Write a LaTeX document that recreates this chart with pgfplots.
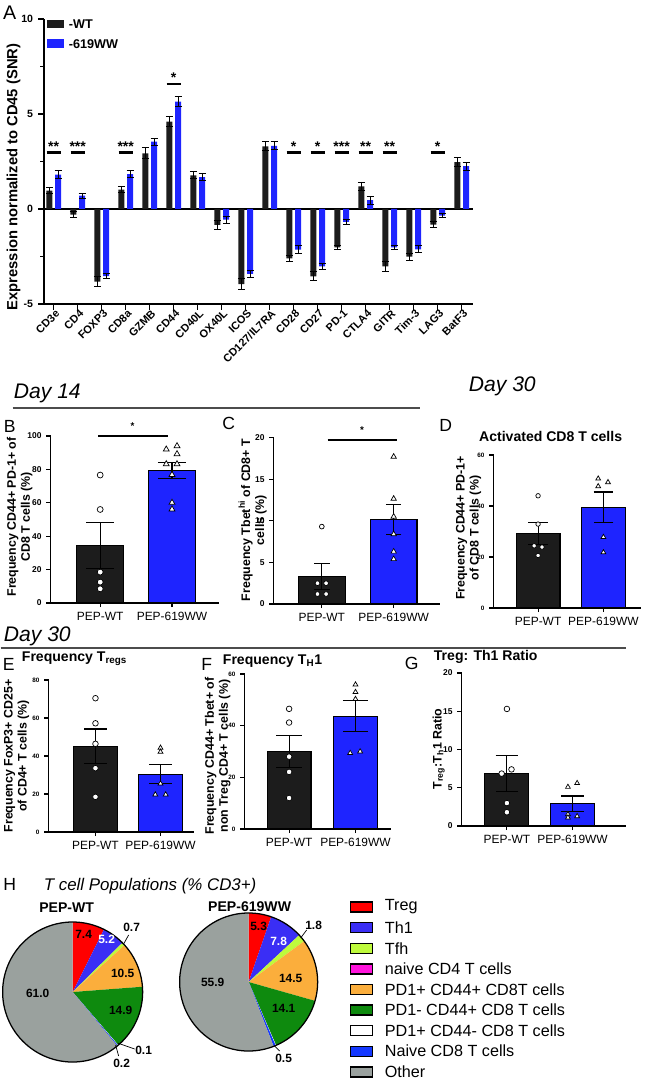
\documentclass[border=0pt]{standalone}
\usepackage{fontspec}
\setmainfont{Liberation Sans}
\usepackage{pgfplots}
\pgfplotsset{compat=1.18}

\definecolor{wtk}{RGB}{28,28,28}
\definecolor{wwb}{RGB}{30,36,255}
\definecolor{ptreg}{RGB}{255,0,0}
\definecolor{pth1}{RGB}{58,46,245}
\definecolor{ptfh}{RGB}{190,250,60}
\definecolor{pncd4}{RGB}{255,20,220}
\definecolor{porange}{RGB}{251,174,60}
\definecolor{pgreen}{RGB}{14,138,14}
\definecolor{pncd8}{RGB}{20,56,255}
\definecolor{pother}{RGB}{154,161,158}

\pgfplotsset{
  /pgf/number format/assume math mode=true,
  gp/.style={scale only axis, anchor=south west, clip=false, ymin=0,
    axis x line*=bottom, axis y line*=left, axis line style={-, line width=1pt},
    xtick={0,1}, xticklabels={PEP-WT,PEP-619WW},
    xticklabel style={font=\fontsize{8.5}{10}\selectfont},
    tick align=outside, major tick length=3pt, tick style={black, line width=0.8pt},
    yticklabel style={font=\bfseries\fontsize{6}{7}\selectfont}},
  barwt/.style={ybar, bar shift=0pt, fill=wtk, draw=black, line width=0.8pt,
    error bars/.cd, y dir=both, y explicit, error bar style={black, line width=0.8pt},
    error mark options={black, line width=0.8pt, mark size=#1, rotate=90}},
  barww/.style={ybar, bar shift=0pt, fill=wwb, draw=black, line width=0.8pt,
    error bars/.cd, y dir=both, y explicit, error bar style={black, line width=0.8pt},
    error mark options={black, line width=0.8pt, mark size=#1, rotate=90}},
  ptc/.style={only marks, mark=*, mark size=#1, mark options={fill=white, draw=black, line width=0.5pt}},
  ptt/.style={only marks, mark=triangle*, mark size=#1, mark options={fill=white, draw=black, line width=0.5pt}},
  pie/.style={fill=#1, draw=none},
  pieaxis/.style={scale only axis, anchor=center, hide axis, clip=false,
    xmin=-1, xmax=1, ymin=-1, ymax=1},
}

\begin{document}
\begin{tikzpicture}
% page in pixel units of the reference (644 x 1079)
\begin{scope}[x=0.025cm,y=-0.025cm]
\useasboundingbox (0,0) rectangle (644,1079);
\coordinate (oA) at (43,304);
\coordinate (oB) at (50,603);
\coordinate (oC) at (273,604);
\coordinate (oD) at (493,608);
\coordinate (oE) at (48,832);
\coordinate (oF) at (244,829);
\coordinate (oG) at (461,826);
\coordinate (cP1) at (72,992);
\coordinate (cP2) at (248,982);
\end{scope}

% ---------------- A
\begin{axis}[at={(oA)}, anchor=south west, scale only axis, width=10.725cm, height=7.125cm, clip=false,
  xmin=-0.42, xmax=17.46, ymin=-5, ymax=10,
  axis x line*=bottom, axis y line*=left, axis line style={-, line width=1.4pt},
  xtick={0,...,17},
  xticklabels={CD3e,CD4,FOXP3,CD8a,GZMB,CD44,CD40L,OX40L,ICOS,CD127/IL7RA,CD28,CD27,PD-1,CTLA4,GITR,Tim-3,LAG3,BatF3},
  ytick={-5,0,5,10}, minor ytick={-2.5,2.5,7.5},
  tick align=outside, major tick length=4pt, minor tick length=2.5pt,
  tick style={black, line width=1.1pt},
  xticklabel style={rotate=45, anchor=east, font=\bfseries\fontsize{7.8}{9}\selectfont, inner sep=1pt, yshift=-3pt, xshift=2pt},
  yticklabel style={font=\bfseries\fontsize{7.5}{9}\selectfont},
  bar width=0.25]
\draw[line width=1.4pt] (axis cs:-0.42,0) -- (axis cs:17.46,0);
\addplot[ybar, bar shift=0pt, fill=wtk, draw=none,
  error bars/.cd, y dir=both, y explicit, error bar style={black, line width=0.7pt},
  error mark options={black, line width=0.7pt, mark size=2.5pt, rotate=90}] coordinates {
  (-0.18,0.96) +- (0,0.16)  (0.82,-0.30) +- (0,0.15)  (1.82,-3.82) +- (0,0.25)
  (2.82,1.02) +- (0,0.14)   (3.82,2.93) +- (0,0.28)   (4.82,4.60) +- (0,0.25)
  (5.82,1.77) +- (0,0.18)   (6.82,-0.84) +- (0,0.23)  (7.82,-3.96) +- (0,0.28)
  (8.82,3.30) +- (0,0.23)   (9.82,-2.60) +- (0,0.14)  (10.82,-3.54) +- (0,0.23)
  (11.82,-2.02) +- (0,0.10) (12.82,1.19) +- (0,0.23)  (13.82,-3.02) +- (0,0.25)
  (14.82,-2.51) +- (0,0.18) (15.82,-0.82) +- (0,0.16) (16.82,2.46) +- (0,0.23)};
\addplot[ybar, bar shift=0pt, fill=wwb, draw=none,
  error bars/.cd, y dir=both, y explicit, error bar style={black, line width=0.7pt},
  error mark options={black, line width=0.7pt, mark size=2.5pt, rotate=90}] coordinates {
  (0.18,1.81) +- (0,0.21)   (1.18,0.70) +- (0,0.14)   (2.18,-3.53) +- (0,0.12)
  (3.18,1.84) +- (0,0.18)   (4.18,3.54) +- (0,0.19)   (5.18,5.65) +- (0,0.28)
  (6.18,1.67) +- (0,0.18)   (7.18,-0.56) +- (0,0.18)  (8.18,-3.42) +- (0,0.16)
  (9.18,3.32) +- (0,0.21)   (10.18,-2.14) +- (0,0.21) (11.18,-3.02) +- (0,0.14)
  (12.18,-0.68) +- (0,0.14) (13.18,0.46) +- (0,0.21)  (14.18,-2.02) +- (0,0.12)
  (15.18,-2.12) +- (0,0.18) (16.18,-0.35) +- (0,0.11) (17.18,2.26) +- (0,0.21)};
\begin{scope}[line width=1.8pt, every node/.style={anchor=base, font=\bfseries\fontsize{10}{10}\selectfont, inner sep=0pt}]
\draw (axis cs:-0.3,2.96) -- (axis cs:0.3,2.96);   \node at (axis cs:0,3.05) {**};
\draw (axis cs:0.7,2.96) -- (axis cs:1.3,2.96);    \node at (axis cs:1,3.05) {***};
\draw (axis cs:2.7,2.96) -- (axis cs:3.3,2.96);    \node at (axis cs:3,3.05) {***};
\draw (axis cs:4.7,6.58) -- (axis cs:5.3,6.58);    \node at (axis cs:5,6.67) {*};
\draw (axis cs:9.7,2.96) -- (axis cs:10.3,2.96);   \node at (axis cs:10,3.05) {*};
\draw (axis cs:10.7,2.96) -- (axis cs:11.3,2.96);  \node at (axis cs:11,3.05) {*};
\draw (axis cs:11.7,2.96) -- (axis cs:12.3,2.96);  \node at (axis cs:12,3.05) {***};
\draw (axis cs:12.7,2.96) -- (axis cs:13.3,2.96);  \node at (axis cs:13,3.05) {**};
\draw (axis cs:13.7,2.96) -- (axis cs:14.3,2.96);  \node at (axis cs:14,3.05) {**};
\draw (axis cs:15.7,2.96) -- (axis cs:16.3,2.96);  \node at (axis cs:16,3.05) {*};
\end{scope}
\end{axis}

% ---------------- B
\begin{axis}[gp, at={(oB)}, width=4.2cm, height=4.175cm, xmin=-0.69, xmax=1.65,
  ymax=100, ytick={0,20,...,100}, bar width=0.65]
\addplot[barwt=10pt] coordinates {(0,34.4) +- (0,13.6)};
\addplot[barww=10pt] coordinates {(1,79.3) +- (0,5.0)};
\addplot[ptc=2.1pt] coordinates {(0,76.6) (0,56.0) (0,18.5) (0,12.5) (0,8.5)};
\addplot[ptt=2.4pt] coordinates {(0.92,92.0) (1.07,94.0) (1.07,89.2) (0.92,83.2)
  (1.07,83.2) (1,76.8) (1,60.1) (1,56.1)};
\draw[line width=0.8pt] (axis cs:-0.03,100) -- (axis cs:0.94,100);
\node[font=\bfseries\fontsize{7}{7}\selectfont] at (axis cs:0.45,106) {*};
\end{axis}

% ---------------- C
\begin{axis}[gp, at={(oC)}, width=4.15cm, height=4.16cm, xmin=-0.67, xmax=1.64,
  ymax=20, ytick={0,5,...,20}, bar width=0.65]
\addplot[barwt=5.5pt] coordinates {(0,3.34) +- (0,1.56)};
\addplot[barww=5.5pt] coordinates {(1,10.16) +- (0,1.8)};
\addplot[ptc=1.7pt] coordinates {(0,9.3) (-0.06,2.5) (0.06,2.5) (-0.06,1.2) (0.06,1.2)};
\addplot[ptt=2.2pt] coordinates {(1,17.7) (1,12.65) (1,10.5) (1,8.4) (1,6.3) (1,5.4)};
\draw[line width=0.8pt] (axis cs:0.08,19.7) -- (axis cs:1.05,19.7);
\node[font=\bfseries\fontsize{7}{7}\selectfont] at (axis cs:0.56,20.9) {*};
\end{axis}

% ---------------- D
\begin{axis}[gp, at={(oD)}, width=3.675cm, height=3.825cm, xmin=-0.68, xmax=1.57,
  ymax=60, ytick={0,20,40,60}, bar width=0.67,
  yticklabel style={font=\bfseries\fontsize{4.5}{5}\selectfont}]
\addplot[barwt=7pt] coordinates {(0,29.2) +- (0,4.3)};
\addplot[barww=7pt] coordinates {(1,39.5) +- (0,6.0)};
\addplot[ptc=1.6pt] coordinates {(0,44.0) (0,32.9) (-0.06,24.4) (0.06,23.9) (0,20.6)};
\addplot[ptt=2pt] coordinates {(0.92,50.7) (1.07,49.3) (0.92,47.7) (1,27.8) (1,21.8)};
\end{axis}

% ---------------- E
\begin{axis}[gp, at={(oE)}, width=3.625cm, height=3.8cm, xmin=-0.72, xmax=1.51,
  ymax=80, ytick={0,20,...,80}, bar width=0.68,
  yticklabel style={font=\bfseries\fontsize{4.5}{5}\selectfont}]
\addplot[barwt=8pt] coordinates {(0,45.2) +- (0,9.0)};
\addplot[barww=8pt] coordinates {(1,30.3) +- (0,5.0)};
\addplot[ptc=2pt] coordinates {(0,70.4) (0,57.2) (0,46.4) (0,33.6) (0,18.5)};
\addplot[ptt=2pt] coordinates {(1,44.3) (1,42.2) (1,25.5) (0.92,19.7) (1.08,19.7)};
\end{axis}

% ---------------- F
\begin{axis}[gp, at={(oF)}, width=3.65cm, height=3.875cm, xmin=-0.67, xmax=1.53,
  ymax=60, ytick={0,20,40,60}, bar width=0.66,
  yticklabel style={font=\bfseries\fontsize{4.5}{5}\selectfont}]
\addplot[barwt=9pt] coordinates {(0,30.0) +- (0,6.3)};
\addplot[barww=9pt] coordinates {(1,43.7) +- (0,6.0)};
\addplot[ptc=2pt] coordinates {(0,46.5) (0,41.2) (0,28.0) (0,22.1) (0,12.0)};
\addplot[ptt=2pt] coordinates {(1,55.9) (1,53.0) (1,50.3) (0.92,29.4) (1.07,30.0)};
\end{axis}

% ---------------- G
\begin{axis}[gp, at={(oG)}, width=4.1cm, height=3.825cm, xmin=-0.69, xmax=1.81,
  ymax=20, ytick={0,5,...,20}, bar width=0.67]
\addplot[barwt=8pt] coordinates {(0,6.87) +- (0,2.35)};
\addplot[barww=8pt] coordinates {(1,2.92) +- (0,1.0)};
\addplot[ptc=2pt] coordinates {(0,15.3) (-0.08,6.85) (0.07,7.4) (0,3.0) (0,1.8)};
\addplot[ptt=2pt] coordinates {(0.93,5.1) (1.07,5.6) (0.93,1.53) (1.07,1.27) (0.93,1.1)};
\end{axis}

% ---------------- H: PEP-WT  (7.4, 5.2, 0.7, 0, 10.5, 14.9, 0.1, 0.2, 61.0)
\begin{axis}[pieaxis, at={(cP1)}, width=3.5cm, height=3.5cm]
\addplot[pie=ptreg,   domain=63.36:90,     samples=12] ({cos(x)},{sin(x)}) -- (axis cs:0,0) -- cycle;
\addplot[pie=pth1,    domain=44.64:63.36,  samples=10] ({cos(x)},{sin(x)}) -- (axis cs:0,0) -- cycle;
\addplot[pie=ptfh,    domain=42.12:44.64,  samples=3]  ({cos(x)},{sin(x)}) -- (axis cs:0,0) -- cycle;
\addplot[pie=porange, domain=4.32:42.12,   samples=16] ({cos(x)},{sin(x)}) -- (axis cs:0,0) -- cycle;
\addplot[pie=pgreen,  domain=-49.32:4.32,  samples=20] ({cos(x)},{sin(x)}) -- (axis cs:0,0) -- cycle;
\addplot[pie=white,   domain=-49.68:-49.32,samples=2]  ({cos(x)},{sin(x)}) -- (axis cs:0,0) -- cycle;
\addplot[pie=pncd8,   domain=-50.4:-49.68, samples=2]  ({cos(x)},{sin(x)}) -- (axis cs:0,0) -- cycle;
\addplot[pie=pother,  domain=-270:-50.4,   samples=80] ({cos(x)},{sin(x)}) -- (axis cs:0,0) -- cycle;
\addplot[draw=black, line width=0.9pt, domain=0:360, samples=120] ({cos(x)},{sin(x)});
\end{axis}

% ---------------- H: PEP-619WW  (5.3, 7.8, 1.8, 0, 14.5, 14.1, 0.1, 0.5, 55.9)
\begin{axis}[pieaxis, at={(cP2)}, width=3.45cm, height=3.45cm]
\addplot[pie=ptreg,   domain=70.92:90,     samples=10] ({cos(x)},{sin(x)}) -- (axis cs:0,0) -- cycle;
\addplot[pie=pth1,    domain=42.84:70.92,  samples=12] ({cos(x)},{sin(x)}) -- (axis cs:0,0) -- cycle;
\addplot[pie=ptfh,    domain=36.36:42.84,  samples=4]  ({cos(x)},{sin(x)}) -- (axis cs:0,0) -- cycle;
\addplot[pie=porange, domain=-15.84:36.36, samples=20] ({cos(x)},{sin(x)}) -- (axis cs:0,0) -- cycle;
\addplot[pie=pgreen,  domain=-66.6:-15.84, samples=20] ({cos(x)},{sin(x)}) -- (axis cs:0,0) -- cycle;
\addplot[pie=white,   domain=-66.96:-66.6, samples=2]  ({cos(x)},{sin(x)}) -- (axis cs:0,0) -- cycle;
\addplot[pie=pncd8,   domain=-68.76:-66.96,samples=3]  ({cos(x)},{sin(x)}) -- (axis cs:0,0) -- cycle;
\addplot[pie=pother,  domain=-270:-68.76,  samples=80] ({cos(x)},{sin(x)}) -- (axis cs:0,0) -- cycle;
\addplot[draw=black, line width=0.9pt, domain=0:360, samples=120] ({cos(x)},{sin(x)});
\end{axis}

% ---------------- texts, headers, legends (pixel units)
\begin{scope}[x=0.025cm,y=-0.025cm]
\tikzset{plab/.style={font=\fontsize{12.5}{13}\selectfont, inner sep=0pt},
  ylab/.style={rotate=90, align=center, font=\bfseries\fontsize{8.8}{10}\selectfont, inner sep=0pt},
  ttl/.style={font=\bfseries\fontsize{10}{12}\selectfont, inner sep=0pt},
  day/.style={font=\itshape\fontsize{15}{17}\selectfont, inner sep=0pt, anchor=west},
  pv/.style={font=\bfseries\fontsize{8.5}{9}\selectfont, inner sep=0pt}}
% A
\node[plab, font=\fontsize{14}{14}\selectfont] at (9,13) {A};
\fill[wtk] (46,20) rectangle (63,28);
\fill[wwb] (46,39) rectangle (63,48);
\node[anchor=west, font=\bfseries\fontsize{9}{10}\selectfont, inner sep=0pt] at (68,24) {-WT};
\node[anchor=west, font=\bfseries\fontsize{9}{10}\selectfont, inner sep=0pt] at (68,44) {-619WW};
\node[rotate=90, font=\bfseries\fontsize{10.5}{12}\selectfont, inner sep=0pt] at (13,177) {Expression normalized to CD45 (SNR)};
% headers
\node[day] at (13,393) {Day 14};
\draw[gray!60!black, line width=0.9pt] (12,408) -- (419,408);
\node[day] at (468,386) {Day 30};
\node[day] at (3,636) {Day 30};
\draw[gray!60!black, line width=0.9pt] (0,648) -- (625,648);
% panel letters
\node[plab] at (9,426) {B};
\node[plab] at (228,423) {C};
\node[plab] at (445,425) {D};
\node[plab] at (8,664) {E};
\node[plab] at (206,664) {F};
\node[plab] at (411,663) {G};
\node[plab] at (9,884) {H};
% titles
\node[ttl] at (550,436) {Activated CD8 T cells};
\node[ttl, anchor=west] at (21,659) {Frequency T\textsubscript{regs}};
\node[ttl, anchor=west] at (222,661) {Frequency T\textsubscript{H}1};
\node[ttl, anchor=west] at (433,657) {Treg: Th1 Ratio};
% y labels
\node[ylab] at (19,517) {Frequency CD44+ PD-1+ of\\CD8 T cells (\%)};
\node[ylab] at (252,520) {Frequency Tbet\textsuperscript{hi} of CD8+ T\\cells (\%)};
\node[ylab] at (468,528) {Frequency CD44+ PD-1+\\of CD8 T cells (\%)};
\node[ylab] at (16,756) {Frequency FoxP3+ CD25+\\of CD4+ T cells (\%)};
\node[ylab] at (217,756) {Frequency CD44+ Tbet+ of\\non Treg CD4+ T cells (\%)};
\node[ylab] at (438,749) {T\textsubscript{reg}:T\textsubscript{h}1 Ratio};
% H
\node[anchor=west, font=\itshape\fontsize{12}{14}\selectfont, inner sep=0pt] at (43,886) {T cell Populations (\% CD3+)};
\node[ttl] at (66,908) {PEP-WT};
\node[ttl] at (249,907) {PEP-619WW};
\node[pv] at (83,934) {7.4};
\node[pv, text=white] at (106,939) {5.2};
\node[pv] at (131,927) {0.7};
\draw[line width=0.5pt] (123,944) -- (128,935);
\node[pv] at (122,973) {10.5};
\node[pv] at (120,1010) {14.9};
\node[pv] at (37,993) {61.0};
\node[pv] at (143,1050) {0.1};
\draw[line width=0.5pt] (117,1043) -- (134,1049);
\node[pv] at (121,1063) {0.2};
\draw[line width=0.5pt] (115,1045) -- (118,1056);
\node[pv] at (258,926) {5.3};
\node[pv, text=white] at (278,941) {7.8};
\node[pv] at (313,925) {1.8};
\draw[line width=0.5pt] (300,938) -- (306,930);
\node[pv] at (290,978) {14.5};
\node[pv] at (283,1008) {14.1};
\node[pv] at (212,982) {55.9};
\node[pv] at (283,1058) {0.5};
\draw[line width=0.5pt] (274,1046) -- (279,1051);
% H legend
\foreach \c/\t [count=\i from 0] in {ptreg/Treg, pth1/Th1, ptfh/Tfh, pncd4/naive CD4 T cells,
    porange/PD1+ CD44+ CD8T cells, pgreen/PD1- CD44+ CD8 T cells, white/PD1+ CD44- CD8 T cells,
    pncd8/Naive CD8 T cells, pother/Other} {
  \filldraw[fill=\c, draw=black, line width=1pt] (350,{902+20.6*\i}) rectangle (372,{912+20.6*\i});
  \node[anchor=west, font=\fontsize{11.5}{13}\selectfont, inner sep=0pt] at (384,{907+20.6*\i}) {\t};
}
\end{scope}
\end{tikzpicture}
\end{document}
